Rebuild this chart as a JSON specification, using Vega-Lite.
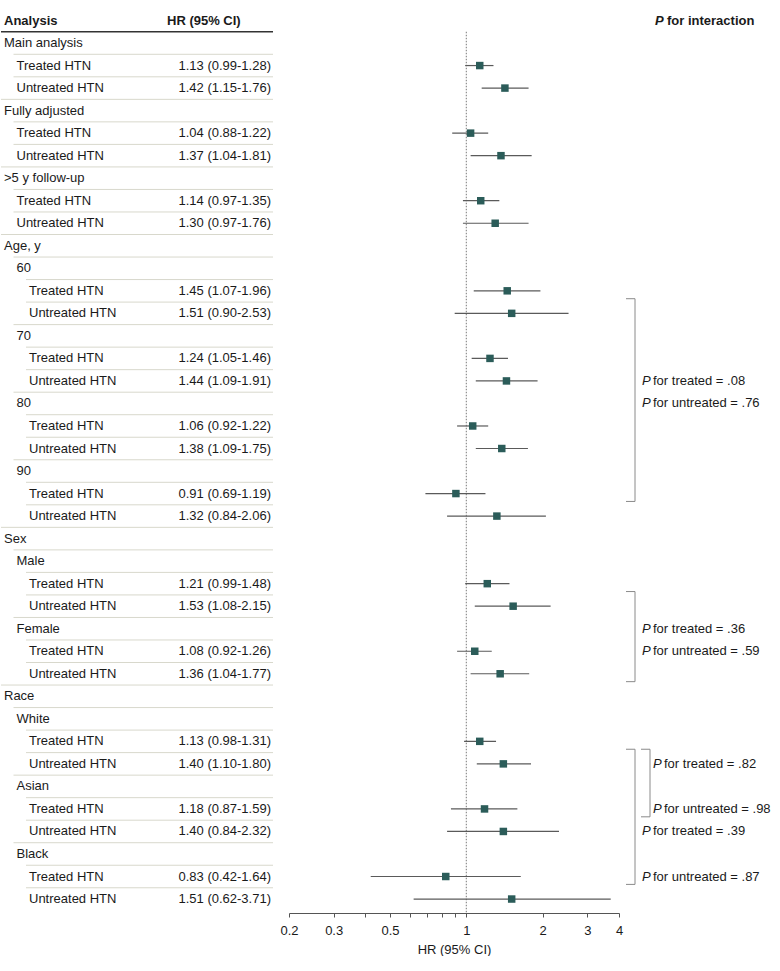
{
  "$schema": "https://vega.github.io/schema/vega-lite/v6.json",
  "padding": 0,
  "spacing": 0,
  "bounds": "flush",
  "config": {
    "view": {"stroke": null},
    "font": "Liberation Sans",
    "text": {"font": "Liberation Sans", "fontSize": 13, "color": "#1a1a1a"}
  },
  "resolve": {"scale": {"x": "independent", "y": "independent"}},
  "datasets": {
    "rows": [
      {"row": 0, "label": "Main analysis", "level": 0},
      {"row": 1, "label": "Treated HTN", "level": 1, "hr": "1.13 (0.99-1.28)", "est": 1.13, "lo": 0.99, "hi": 1.28},
      {"row": 2, "label": "Untreated HTN", "level": 1, "hr": "1.42 (1.15-1.76)", "est": 1.42, "lo": 1.15, "hi": 1.76},
      {"row": 3, "label": "Fully adjusted", "level": 0},
      {"row": 4, "label": "Treated HTN", "level": 1, "hr": "1.04 (0.88-1.22)", "est": 1.04, "lo": 0.88, "hi": 1.22},
      {"row": 5, "label": "Untreated HTN", "level": 1, "hr": "1.37 (1.04-1.81)", "est": 1.37, "lo": 1.04, "hi": 1.81},
      {"row": 6, "label": ">5 y follow-up", "level": 0},
      {"row": 7, "label": "Treated HTN", "level": 1, "hr": "1.14 (0.97-1.35)", "est": 1.14, "lo": 0.97, "hi": 1.35},
      {"row": 8, "label": "Untreated HTN", "level": 1, "hr": "1.30 (0.97-1.76)", "est": 1.30, "lo": 0.97, "hi": 1.76},
      {"row": 9, "label": "Age, y", "level": 0},
      {"row": 10, "label": "60", "level": 1},
      {"row": 11, "label": "Treated HTN", "level": 2, "hr": "1.45 (1.07-1.96)", "est": 1.45, "lo": 1.07, "hi": 1.96},
      {"row": 12, "label": "Untreated HTN", "level": 2, "hr": "1.51 (0.90-2.53)", "est": 1.51, "lo": 0.90, "hi": 2.53},
      {"row": 13, "label": "70", "level": 1},
      {"row": 14, "label": "Treated HTN", "level": 2, "hr": "1.24 (1.05-1.46)", "est": 1.24, "lo": 1.05, "hi": 1.46},
      {"row": 15, "label": "Untreated HTN", "level": 2, "hr": "1.44 (1.09-1.91)", "est": 1.44, "lo": 1.09, "hi": 1.91},
      {"row": 16, "label": "80", "level": 1},
      {"row": 17, "label": "Treated HTN", "level": 2, "hr": "1.06 (0.92-1.22)", "est": 1.06, "lo": 0.92, "hi": 1.22},
      {"row": 18, "label": "Untreated HTN", "level": 2, "hr": "1.38 (1.09-1.75)", "est": 1.38, "lo": 1.09, "hi": 1.75},
      {"row": 19, "label": "90", "level": 1},
      {"row": 20, "label": "Treated HTN", "level": 2, "hr": "0.91 (0.69-1.19)", "est": 0.91, "lo": 0.69, "hi": 1.19},
      {"row": 21, "label": "Untreated HTN", "level": 2, "hr": "1.32 (0.84-2.06)", "est": 1.32, "lo": 0.84, "hi": 2.06},
      {"row": 22, "label": "Sex", "level": 0},
      {"row": 23, "label": "Male", "level": 1},
      {"row": 24, "label": "Treated HTN", "level": 2, "hr": "1.21 (0.99-1.48)", "est": 1.21, "lo": 0.99, "hi": 1.48},
      {"row": 25, "label": "Untreated HTN", "level": 2, "hr": "1.53 (1.08-2.15)", "est": 1.53, "lo": 1.08, "hi": 2.15},
      {"row": 26, "label": "Female", "level": 1},
      {"row": 27, "label": "Treated HTN", "level": 2, "hr": "1.08 (0.92-1.26)", "est": 1.08, "lo": 0.92, "hi": 1.26},
      {"row": 28, "label": "Untreated HTN", "level": 2, "hr": "1.36 (1.04-1.77)", "est": 1.36, "lo": 1.04, "hi": 1.77},
      {"row": 29, "label": "Race", "level": 0},
      {"row": 30, "label": "White", "level": 1},
      {"row": 31, "label": "Treated HTN", "level": 2, "hr": "1.13 (0.98-1.31)", "est": 1.13, "lo": 0.98, "hi": 1.31},
      {"row": 32, "label": "Untreated HTN", "level": 2, "hr": "1.40 (1.10-1.80)", "est": 1.40, "lo": 1.10, "hi": 1.80},
      {"row": 33, "label": "Asian", "level": 1},
      {"row": 34, "label": "Treated HTN", "level": 2, "hr": "1.18 (0.87-1.59)", "est": 1.18, "lo": 0.87, "hi": 1.59},
      {"row": 35, "label": "Untreated HTN", "level": 2, "hr": "1.40 (0.84-2.32)", "est": 1.40, "lo": 0.84, "hi": 2.32},
      {"row": 36, "label": "Black", "level": 1},
      {"row": 37, "label": "Treated HTN", "level": 2, "hr": "0.83 (0.42-1.64)", "est": 0.83, "lo": 0.42, "hi": 1.64},
      {"row": 38, "label": "Untreated HTN", "level": 2, "hr": "1.51 (0.62-3.71)", "est": 1.51, "lo": 0.62, "hi": 3.71}
    ],
    "header": [{"row": -1}],
    "brackets": [
      {"group": "Age", "nest": 0, "top": 11, "bottom": 20},
      {"group": "Sex", "nest": 0, "top": 24, "bottom": 28},
      {"group": "Race", "nest": 0, "top": 31, "bottom": 37},
      {"group": "Race", "nest": 1, "top": 31, "bottom": 34}
    ],
    "pvals": [
      {"row": 15, "nest": 0, "text": "for treated = .08"},
      {"row": 16, "nest": 0, "text": "for untreated = .76"},
      {"row": 26, "nest": 0, "text": "for treated = .36"},
      {"row": 27, "nest": 0, "text": "for untreated = .59"},
      {"row": 32, "nest": 1, "text": "for treated = .82"},
      {"row": 34, "nest": 1, "text": "for untreated = .98"},
      {"row": 35, "nest": 0, "text": "for treated = .39"},
      {"row": 37, "nest": 0, "text": "for untreated = .87"}
    ]
  },
  "hconcat": [
    {
      "width": 288,
      "height": 913,
      "layer": [
        {
          "data": {"name": "rows"},
          "transform": [{"filter": "datum.row >= 1"}],
          "mark": {"type": "rule", "color": "#d8d8cc", "strokeWidth": 1},
          "encoding": {
            "y": {"field": "row", "type": "ordinal", "bandPosition": 0, "axis": null,
                  "scale": {"domain": [-1,0,1,2,3,4,5,6,7,8,9,10,11,12,13,14,15,16,17,18,19,20,21,22,23,24,25,26,27,28,29,30,31,32,33,34,35,36,37,38], "paddingInner": 0, "paddingOuter": 0.265, "align": 0.774}},
            "x": {"field": "level", "type": "quantitative", "axis": null, "scale": {"domain": [0, 23.04], "nice": false, "zero": false}},
            "x2": {"datum": 21.76}
          }
        },
        {
          "data": {"name": "rows"},
          "transform": [{"filter": "datum.row == 0"}],
          "mark": {"type": "rule", "color": "#333333", "strokeWidth": 1.5},
          "encoding": {
            "y": {"field": "row", "type": "ordinal", "bandPosition": 0},
            "x": {"datum": 0, "type": "quantitative"},
            "x2": {"datum": 21.76}
          }
        },
        {
          "data": {"name": "rows"},
          "mark": {"type": "text", "align": "left", "baseline": "middle", "dx": 3},
          "encoding": {
            "y": {"field": "row", "type": "ordinal"},
            "x": {"field": "level", "type": "quantitative"},
            "text": {"field": "label"}
          }
        },
        {
          "data": {"name": "rows"},
          "transform": [{"filter": "isValid(datum.hr)"}],
          "mark": {"type": "text", "align": "right", "baseline": "middle"},
          "encoding": {
            "y": {"field": "row", "type": "ordinal"},
            "x": {"datum": 21.6, "type": "quantitative"},
            "text": {"field": "hr"}
          }
        },
        {
          "data": {"name": "header"},
          "mark": {"type": "text", "align": "left", "baseline": "middle", "dx": 3, "fontWeight": "bold"},
          "encoding": {
            "y": {"field": "row", "type": "ordinal"},
            "x": {"datum": 0, "type": "quantitative"},
            "text": {"value": "Analysis"}
          }
        },
        {
          "data": {"name": "header"},
          "mark": {"type": "text", "align": "left", "baseline": "middle", "fontWeight": "bold"},
          "encoding": {
            "y": {"field": "row", "type": "ordinal"},
            "x": {"datum": 13.28, "type": "quantitative"},
            "text": {"value": "HR (95% CI)"}
          }
        }
      ]
    },
    {
      "width": 330,
      "height": 913,
      "layer": [
        {
          "data": {"name": "header"},
          "mark": {"type": "rule", "color": "#777777", "strokeDash": [1.5, 1.5], "strokeWidth": 1},
          "encoding": {
            "y": {"field": "row", "type": "ordinal", "bandPosition": 1, "axis": null,
                  "scale": {"domain": [-1,0,1,2,3,4,5,6,7,8,9,10,11,12,13,14,15,16,17,18,19,20,21,22,23,24,25,26,27,28,29,30,31,32,33,34,35,36,37,38], "paddingInner": 0, "paddingOuter": 0.265, "align": 0.774}},
            "y2": {"value": "height"},
            "x": {"datum": 1, "type": "quantitative",
                  "scale": {"type": "log", "domain": [0.2, 4], "nice": false},
                  "axis": {
                    "title": "HR (95% CI)",
                    "values": [0.2, 0.3, 0.4, 0.5, 0.6, 0.7, 0.8, 0.9, 1, 2, 3, 4],
                    "labelExpr": "indexof([0.2, 0.3, 0.5, 1, 2, 3, 4], datum.value) >= 0 ? datum.label : ''",
                    "labelOverlap": false,
                    "labelFlush": false,
                    "grid": false,
                    "domainColor": "#555555",
                    "tickColor": "#555555",
                    "tickSize": 4,
                    "labelFont": "Liberation Sans",
                    "labelFontSize": 13,
                    "labelColor": "#1a1a1a",
                    "labelPadding": 7,
                    "titleFont": "Liberation Sans",
                    "titleFontSize": 13,
                    "titleFontWeight": "normal",
                    "titleColor": "#1a1a1a",
                    "titlePadding": 6
                  }}
          }
        },
        {
          "data": {"name": "rows"},
          "transform": [{"filter": "isValid(datum.est)"}],
          "mark": {"type": "rule", "color": "#5a5a5a", "strokeWidth": 1.2},
          "encoding": {
            "y": {"field": "row", "type": "ordinal"},
            "x": {"field": "lo", "type": "quantitative"},
            "x2": {"field": "hi"}
          }
        },
        {
          "data": {"name": "rows"},
          "transform": [{"filter": "isValid(datum.est)"}],
          "mark": {"type": "square", "size": 56, "color": "#2b5c59", "opacity": 1, "filled": true},
          "encoding": {
            "y": {"field": "row", "type": "ordinal"},
            "x": {"field": "est", "type": "quantitative"}
          }
        }
      ]
    },
    {
      "width": 162,
      "height": 913,
      "layer": [
        {
          "data": {"name": "header"},
          "mark": {"type": "text", "align": "left", "baseline": "middle", "fontWeight": "bold", "fontStyle": "italic"},
          "encoding": {
            "y": {"field": "row", "type": "ordinal", "axis": null,
                  "scale": {"domain": [-1,0,1,2,3,4,5,6,7,8,9,10,11,12,13,14,15,16,17,18,19,20,21,22,23,24,25,26,27,28,29,30,31,32,33,34,35,36,37,38], "paddingInner": 0, "paddingOuter": 0.265, "align": 0.774}},
            "x": {"datum": 36, "type": "quantitative", "axis": null, "scale": {"domain": [0, 162], "nice": false, "zero": false}},
            "text": {"value": "P"}
          }
        },
        {
          "data": {"name": "header"},
          "mark": {"type": "text", "align": "left", "baseline": "middle", "fontWeight": "bold", "dx": 12},
          "encoding": {
            "y": {"field": "row", "type": "ordinal"},
            "x": {"datum": 36, "type": "quantitative"},
            "text": {"value": "for interaction"}
          }
        },
        {
          "data": {"name": "brackets"},
          "transform": [{"filter": "datum.nest == 0"}],
          "mark": {"type": "rule", "color": "#8a8a8a", "strokeWidth": 1},
          "encoding": {
            "y": {"field": "top", "type": "ordinal", "bandPosition": 0.85},
            "y2": {"field": "bottom", "bandPosition": 0.85},
            "x": {"datum": 16, "type": "quantitative"}
          }
        },
        {
          "data": {"name": "brackets"},
          "transform": [{"filter": "datum.nest == 0"}, {"fold": ["top", "bottom"], "as": ["end", "r"]}],
          "mark": {"type": "rule", "color": "#8a8a8a", "strokeWidth": 1},
          "encoding": {
            "y": {"field": "r", "type": "ordinal", "bandPosition": 0.85},
            "x": {"datum": 7, "type": "quantitative"},
            "x2": {"datum": 16}
          }
        },
        {
          "data": {"name": "brackets"},
          "transform": [{"filter": "datum.nest == 1"}],
          "mark": {"type": "rule", "color": "#8a8a8a", "strokeWidth": 1},
          "encoding": {
            "y": {"field": "top", "type": "ordinal", "bandPosition": 0.85},
            "y2": {"field": "bottom", "bandPosition": 0.85},
            "x": {"datum": 31, "type": "quantitative"}
          }
        },
        {
          "data": {"name": "brackets"},
          "transform": [{"filter": "datum.nest == 1"}, {"fold": ["top", "bottom"], "as": ["end", "r"]}],
          "mark": {"type": "rule", "color": "#8a8a8a", "strokeWidth": 1},
          "encoding": {
            "y": {"field": "r", "type": "ordinal", "bandPosition": 0.85},
            "x": {"datum": 22, "type": "quantitative"},
            "x2": {"datum": 31}
          }
        },
        {
          "data": {"name": "pvals"},
          "transform": [{"filter": "datum.nest == 0"}],
          "mark": {"type": "text", "align": "left", "baseline": "middle", "fontStyle": "italic"},
          "encoding": {
            "y": {"field": "row", "type": "ordinal"},
            "x": {"datum": 23, "type": "quantitative"},
            "text": {"value": "P"}
          }
        },
        {
          "data": {"name": "pvals"},
          "transform": [{"filter": "datum.nest == 0"}],
          "mark": {"type": "text", "align": "left", "baseline": "middle", "dx": 11},
          "encoding": {
            "y": {"field": "row", "type": "ordinal"},
            "x": {"datum": 23, "type": "quantitative"},
            "text": {"field": "text"}
          }
        },
        {
          "data": {"name": "pvals"},
          "transform": [{"filter": "datum.nest == 1"}],
          "mark": {"type": "text", "align": "left", "baseline": "middle", "fontStyle": "italic"},
          "encoding": {
            "y": {"field": "row", "type": "ordinal"},
            "x": {"datum": 34, "type": "quantitative"},
            "text": {"value": "P"}
          }
        },
        {
          "data": {"name": "pvals"},
          "transform": [{"filter": "datum.nest == 1"}],
          "mark": {"type": "text", "align": "left", "baseline": "middle", "dx": 11},
          "encoding": {
            "y": {"field": "row", "type": "ordinal"},
            "x": {"datum": 34, "type": "quantitative"},
            "text": {"field": "text"}
          }
        }
      ]
    }
  ]
}
